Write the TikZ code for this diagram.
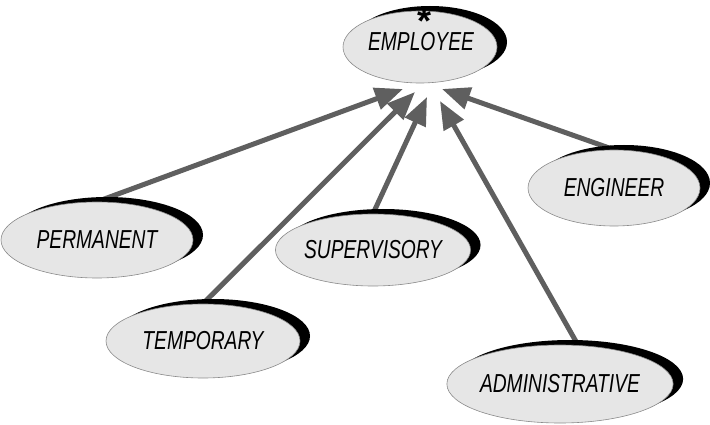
\documentclass[tikz,border=0pt]{standalone}
\usepackage{fontspec}
\setmainfont{Liberation Sans}
\newfontfamily\narfont[FakeStretch=0.74]{Liberation Sans}
\usetikzlibrary{shapes.geometric,arrows.meta,shadows}
\pgfdeclarelayer{background}
\pgfsetlayers{background,main}
\definecolor{ellfill}{HTML}{E6E6E6}
\definecolor{ellline}{HTML}{8A8A8A}
\definecolor{arrcol}{HTML}{5F5F5F}
\tikzset{
  ell/.style={ellipse, inner sep=0pt, fill=ellfill, draw=ellline, line width=0.6pt,
    drop shadow={shadow xshift=10pt, shadow yshift=5pt, fill=black, opacity=1},
    font=\narfont\itshape\fontsize{26}{28}\selectfont},
  lbl/.style={inner sep=0pt, font=\narfont\itshape\fontsize{26}{28}\selectfont},
  isa/.style={draw=arrcol, line width=5pt, -{Triangle[length=28pt,width=22pt,fill=arrcol]}}
}
\begin{document}
\begin{tikzpicture}[x=1pt,y=-1pt]
\useasboundingbox (0,0) rectangle (710,425);
% nodes
\node[ell, minimum width=154pt, minimum height=72pt] (emp) at (420,47) {};
\node[lbl] (emptxt) at (421,42) {EMPLOYEE};
\node[font=\bfseries\fontsize{36}{36}\selectfont, inner sep=0pt, text height=0.15em, text depth=0.15em] (star) at (425,13) {\smash{\raisebox{-0.57em}{*}}};
\node[ell, minimum width=192pt, minimum height=76pt] (perm) at (97,240) {PERMANENT};
\node[ell, minimum width=194pt, minimum height=74pt] (temp) at (203,341) {TEMPORARY};
\node[ell, minimum width=178pt, minimum height=72pt] (sup) at (373,250) {SUPERVISORY};
\node[ell, minimum width=172pt, minimum height=76pt] (eng) at (614,188) {ENGINEER};
\node[ell, minimum width=226pt, minimum height=78pt] (adm) at (560,384) {ADMINISTRATIVE};
% arrow tips
\coordinate (t1) at (403,89);
\coordinate (t2) at (415,92);
\coordinate (t3) at (427,97);
\coordinate (t4) at (440,101);
\coordinate (t5) at (442,89);
\begin{pgfonlayer}{background}
\draw[isa] (perm.north) -- (t1);
\draw[isa] (temp.north) -- (t2);
\draw[isa] (sup.north) -- (t3);
\draw[isa] (adm.65) -- (t4);
\draw[isa] (eng.north) -- (t5);
\end{pgfonlayer}
\end{tikzpicture}
\end{document}
